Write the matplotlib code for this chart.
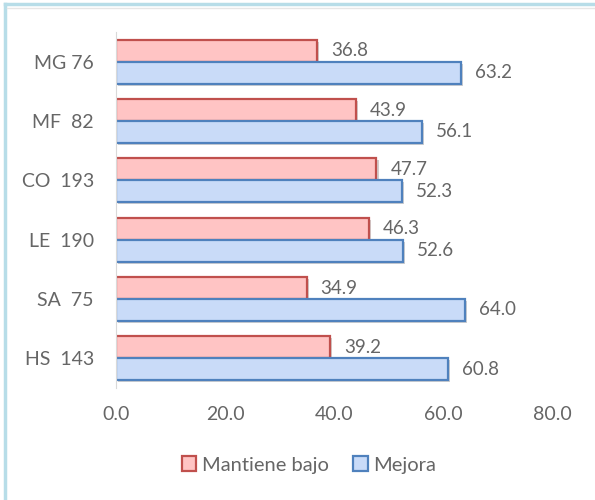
import matplotlib
matplotlib.use('Agg')
import matplotlib.pyplot as plt
from matplotlib.lines import Line2D
from matplotlib.patches import Patch
import matplotlib.patheffects as pe
import numpy as np

categories = ["MG 76", "MF  82", "CO  193", "LE  190", "SA  75", "HS  143"]
mantiene_bajo = [36.8, 43.9, 47.7, 46.3, 34.9, 39.2]
mejora = [63.2, 56.1, 52.3, 52.6, 64.0, 60.8]
x_ticks = [0, 20, 40, 60, 80]

red_face = "#FFC4C4"
red_edge = "#C0504D"
blue_face = "#C9DBF8"
blue_edge = "#4F81BD"
text_grey = "#666666"

plt.rcParams['font.family'] = ['Lato', 'DejaVu Sans']

fig = plt.figure(figsize=(5.95, 5.0), dpi=100)
ax = fig.add_axes([0.195, 0.224, 0.734, 0.712])

y = np.arange(len(categories))
h = 0.37
shadow = [pe.SimplePatchShadow(offset=(1.5, -1.5), alpha=0.25), pe.Normal()]

bars_r = ax.barh(y - h / 2, mantiene_bajo, height=h, color=red_face,
                 edgecolor=red_edge, linewidth=1.6, path_effects=shadow)
bars_b = ax.barh(y + h / 2, mejora, height=h, color=blue_face,
                 edgecolor=blue_edge, linewidth=1.6, path_effects=shadow)

for bars, vals in ((bars_r, mantiene_bajo), (bars_b, mejora)):
    for b, v in zip(bars, vals):
        ax.annotate("{:.1f}".format(v), (v, b.get_y() + b.get_height() / 2),
                    xytext=(10, 0), textcoords="offset points",
                    ha="left", va="center", fontsize=13.5, color=text_grey)

ax.set_xlim(0, 80)
ax.set_ylim(len(categories) - 0.5, -0.5)
ax.set_xticks(x_ticks)
ax.set_xticklabels(["{:.1f}".format(t) for t in x_ticks])
ax.set_yticks(y)
ax.set_yticklabels(categories)
ax.tick_params(axis="both", length=0, labelsize=14, colors=text_grey)
ax.tick_params(axis="x", pad=13)
ax.tick_params(axis="y", pad=16)

for s in ("top", "right", "bottom"):
    ax.spines[s].set_visible(False)
ax.spines["left"].set_color("#D9D9D9")

handles = [Patch(facecolor=red_face, edgecolor=red_edge, linewidth=1.6),
           Patch(facecolor=blue_face, edgecolor=blue_edge, linewidth=1.6)]
leg = fig.legend(handles, ["Mantiene bajo", "Mejora"], loc="center",
                 bbox_to_anchor=(0.52, 0.07), ncol=2, frameon=False,
                 fontsize=14.5, handlelength=0.7, handleheight=0.7,
                 handletextpad=0.3, columnspacing=1.2)
for t in leg.get_texts():
    t.set_color(text_grey)

# light blue frame on top and left edges
fig.add_artist(Line2D([0.008, 1.0], [0.992, 0.992], color="#B7DDE8", lw=2.5))
fig.add_artist(Line2D([0.008, 0.008], [0.0, 0.992], color="#B7DDE8", lw=2.5))
fig.add_artist(Line2D([0.012, 1.0], [0.985, 0.985], color="#E6E6E6", lw=1))

fig.savefig("out.png", dpi=100)
plt.close(fig)
